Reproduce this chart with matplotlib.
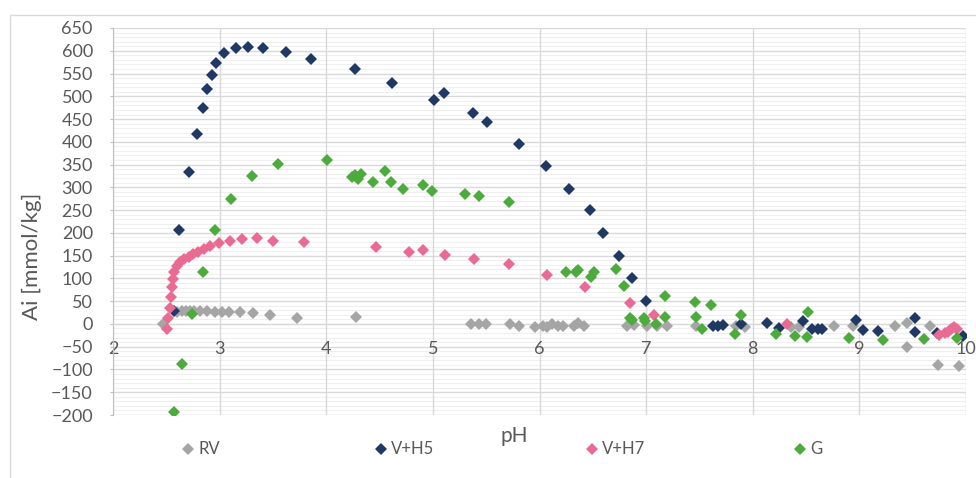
import matplotlib
matplotlib.use('Agg')
import matplotlib.pyplot as plt
from matplotlib.patches import Rectangle
from matplotlib.lines import Line2D
import numpy as np

# Data (pH, Ai in mmol/kg)
rv_ph = [2.47, 2.60, 2.645, 2.685, 2.72, 2.76, 2.82, 2.88, 2.96, 3.02, 3.09, 3.19, 3.31, 3.47,
         3.73, 4.275, 5.36, 5.43, 5.50, 5.72, 5.81, 5.96, 6.03, 6.07, 6.12, 6.17, 6.22, 6.32,
         6.36, 6.42, 6.82, 6.885, 7.01, 7.105, 7.20, 7.47, 7.84, 7.93, 8.36, 8.43, 8.76, 8.94,
         9.33, 9.45, 9.45, 9.66, 9.74, 9.93]
rv_ai = [0, 27, 29, 29, 29, 28, 28, 29, 27, 27, 27, 27, 23, 20,
         12, 15, -1, -1, -1, -1, -4, -6, -5, -6, -1, -5, -5, -5,
         2, -5, -5, -3, -5, -5, -5, -5, -4, -7, -6, -7, -5, -5,
         -5, 1, -51, -4, -90, -92]

vh5_ph = [2.57, 2.62, 2.715, 2.79, 2.845, 2.885, 2.93, 2.97, 3.04, 3.15, 3.27, 3.41, 3.62, 3.86,
          4.27, 4.62, 5.01, 5.10, 5.375, 5.51, 5.81, 6.06, 6.275, 6.47, 6.60, 6.75, 6.87, 7.0,
          7.63, 7.67, 7.72, 7.89, 8.13, 8.25, 8.47, 8.56, 8.61, 8.65, 8.97, 9.03, 9.17, 9.52,
          9.52, 9.73, 9.97]
vh5_ai = [29, 207, 334, 417, 475, 516, 547, 574, 595, 606, 609, 607, 598, 582,
          560, 530, 492, 508, 464, 443, 396, 347, 296, 250, 199, 150, 100, 50,
          -4, -4, -3, -1, 1, -8, 7, -11, -11, -11, 8, -13, -15, 12,
          -17, -20, -26]

vh7_ph = [2.504, 2.52, 2.53, 2.54, 2.55, 2.56, 2.57, 2.60, 2.63, 2.67, 2.71, 2.75, 2.80, 2.855,
          2.91, 2.99, 3.10, 3.21, 3.35, 3.505, 3.79, 4.47, 4.78, 4.91, 5.11, 5.39, 5.71, 6.07,
          6.43, 6.85, 7.07, 8.32, 9.75, 9.80, 9.83, 9.86, 9.89, 9.92]
vh7_ai = [-12, 12, 34, 60, 81, 98, 115, 127, 135, 142, 148, 153, 158, 164,
          171, 177, 182, 186, 188, 183, 180, 168, 157, 163, 152, 143, 131, 108,
          82, 47, 20, -1, -24, -20, -17, -12, -7, -12]

g_ph = [2.575, 2.65, 2.74, 2.84, 2.96, 3.11, 3.30, 3.55, 4.01, 4.24, 4.27, 4.30, 4.33, 4.44,
        4.55, 4.61, 4.72, 4.905, 4.99, 5.30, 5.43, 5.71, 6.25, 6.34, 6.36, 6.48, 6.51, 6.72,
        6.79, 6.845, 6.87, 6.98, 6.99, 7.09, 7.18, 7.18, 7.455, 7.465, 7.52, 7.61, 7.83, 7.89,
        8.22, 8.40, 8.51, 8.52, 8.90, 9.22, 9.61, 9.92]
g_ai = [-193, -87, 22, 115, 207, 275, 325, 352, 360, 322, 327, 319, 330, 311,
        337, 311, 297, 305, 293, 285, 281, 267, 115, 114, 119, 104, 115, 121,
        84, 12, 9, 14, 7, 0, 62, 16, 48, 16, -11, 42, -21, 20,
        -23, -26, -28, 27, -31, -35, -34, -31]

series = [('RV', rv_ph, rv_ai, '#A5A5A5'),
          ('V+H5', vh5_ph, vh5_ai, '#1F3864'),
          ('V+H7', vh7_ph, vh7_ai, '#E96A93'),
          ('G', g_ph, g_ai, '#4DAA3C')]

plt.rcParams['font.family'] = ['Lato', 'DejaVu Sans']
text_col = '#595959'
grid_col = '#D9D9D9'

fig = plt.figure(figsize=(9.76, 4.78), dpi=100)
W, H = 976, 478
ax = fig.add_axes([113 / W, 1 - 415 / H, (966 - 113) / W, (415 - 28) / H])

# chart border
fig.patches.append(Rectangle((10 / W, -0.05), 1.1, 1 - 15 / H + 0.05, transform=fig.transFigure,
                             fill=False, edgecolor='#D9D9D9', linewidth=1.0))

for name, xs, ys, col in series:
    ax.plot(xs, ys, linestyle='none', marker='D', markersize=6.3, color=col,
            markeredgewidth=0, label=name, zorder=3)

ax.set_xlim(2, 10)
ax.set_ylim(-200, 650)
ax.set_xticks(np.arange(2, 11, 1))
ax.set_yticks(np.arange(-200, 651, 50))
ax.set_yticks(np.arange(-200, 651, 10), minor=True)

ax.grid(True, which='major', color=grid_col, linewidth=1.0)
ax.grid(True, which='minor', axis='y', color='#EFEFEF', linewidth=0.8)
ax.set_axisbelow(True)
# y gridlines under the x axis so the pH numbers sit on top of them
ax.yaxis.set_zorder(0.3)

for s in ['top', 'right']:
    ax.spines[s].set_visible(False)
ax.spines['bottom'].set_position(('data', 0))
ax.spines['bottom'].set_color(grid_col)
ax.spines['left'].set_color('#BFBFBF')

ax.tick_params(axis='x', length=0, pad=12, labelsize=13, labelcolor=text_col)
ax.tick_params(axis='y', which='major', length=2.5, color='#BFBFBF', pad=12,
               labelsize=13, labelcolor=text_col)
ax.tick_params(axis='y', which='minor', length=0)

ax.set_ylabel('Ai [mmol/kg]', fontsize=16, color=text_col)
ax.yaxis.set_label_coords(-0.083, 0.41)

fig.text(514 / W, 1 - 436 / H, 'pH', ha='center', va='center', fontsize=15, color=text_col)

# legend laid out like the Excel one
leg_x = [188, 381, 592, 800]
for (name, xs, ys, col), lx in zip(series, leg_x):
    fig.lines.append(Line2D([lx / W], [1 - 449 / H], transform=fig.transFigure, marker='D',
                            markersize=6.3, color=col, markeredgewidth=0, linestyle='none'))
    fig.text((lx + 10) / W, 1 - 449 / H, name, ha='left', va='center', fontsize=12, color=text_col)

fig.savefig('out.png', dpi=100)
